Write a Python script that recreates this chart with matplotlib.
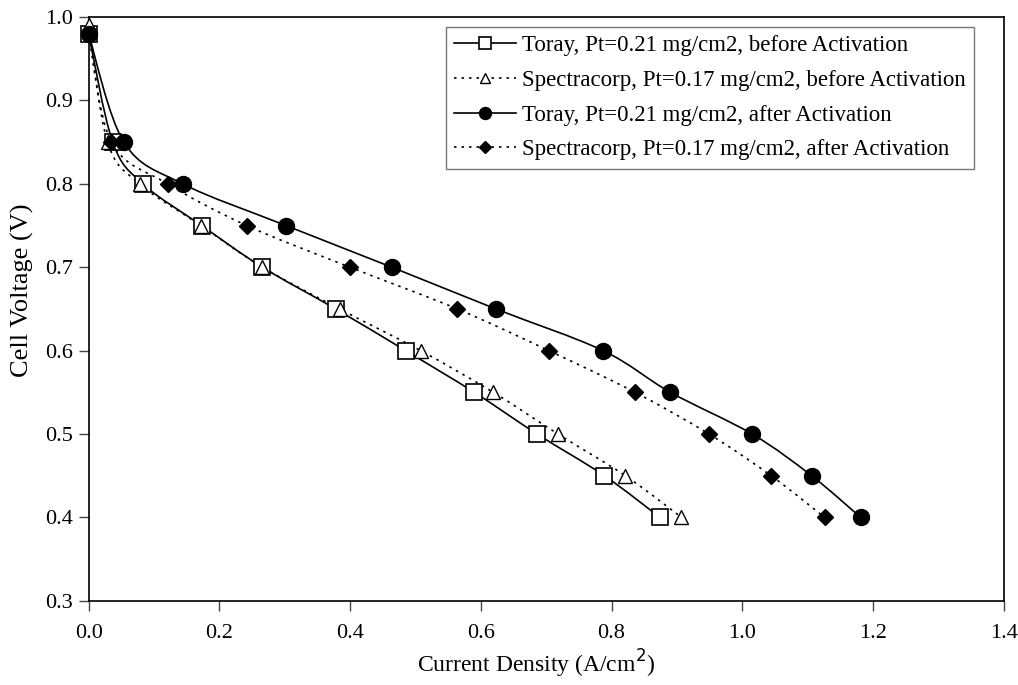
import numpy as np
import matplotlib.pyplot as plt
from matplotlib.path import Path
from matplotlib.patches import PathPatch
from matplotlib.lines import Line2D

plt.rcParams['font.family'] = ['Liberation Serif', 'DejaVu Serif']

voltage = [0.98, 0.85, 0.80, 0.75, 0.70, 0.65, 0.60, 0.55, 0.50, 0.45, 0.40]
toray_before = [0.0, 0.037, 0.083, 0.173, 0.266, 0.378, 0.485, 0.590, 0.686, 0.789, 0.874]
spectra_before_v = [0.99, 0.85, 0.80, 0.75, 0.70, 0.65, 0.60, 0.55, 0.50, 0.45, 0.40]
spectra_before = [0.0, 0.029, 0.078, 0.172, 0.266, 0.384, 0.508, 0.619, 0.718, 0.821, 0.907]
toray_after = [0.0, 0.054, 0.144, 0.302, 0.464, 0.623, 0.787, 0.890, 1.015, 1.106, 1.181]
spectra_after = [0.0, 0.035, 0.121, 0.242, 0.400, 0.564, 0.704, 0.836, 0.949, 1.044, 1.126]

labels = ['Toray, Pt=0.21 mg/cm2, before Activation',
          'Spectracorp, Pt=0.17 mg/cm2, before Activation',
          'Toray, Pt=0.21 mg/cm2, after Activation',
          'Spectracorp, Pt=0.17 mg/cm2, after Activation']

DOT = (0, (1.5, 3))


def smooth_path(x, y):
    # Catmull-Rom style bezier through the points (like Excel smoothed lines)
    p = np.column_stack([x, y])
    n = len(p)
    verts = [p[0]]
    codes = [Path.MOVETO]
    for i in range(n - 1):
        p0 = p[i - 1] if i > 0 else p[i]
        p3 = p[i + 2] if i + 2 < n else p[i + 1]
        c1 = p[i] + (p[i + 1] - p0) / 6
        c2 = p[i + 1] - (p3 - p[i]) / 6
        verts += [c1, c2, p[i + 1]]
        codes += [Path.CURVE4] * 3
    return Path(verts, codes)


fig, ax = plt.subplots(figsize=(10.18, 6.85), dpi=100)
fig.subplots_adjust(left=0.087, right=0.986, top=0.975, bottom=0.123)

series = [
    (toray_before, voltage, '-', dict(marker='s', ms=11, mfc='white', mec='black', mew=1.2)),
    (spectra_before, spectra_before_v, DOT, dict(marker='^', ms=10, mfc='white', mec='black', mew=1.0)),
    (toray_after, voltage, '-', dict(marker='o', ms=11.5, mfc='black', mec='black')),
    (spectra_after, voltage, DOT, dict(marker='D', ms=8, mfc='black', mec='black')),
]

handles = []
for (x, y, ls, mk), lab in zip(series, labels):
    patch = PathPatch(smooth_path(x, y), fill=False, edgecolor='black', lw=1.2, linestyle=ls)
    ax.add_patch(patch)
    ax.plot(x, y, linestyle='none', color='black', clip_on=False, **mk, zorder=3)
    handles.append(Line2D([], [], color='black', lw=1.2, linestyle=ls, **mk))

ax.set_xlim(0, 1.4)
ax.set_ylim(0.3, 1.0)
ax.set_xticks(np.arange(0, 1.41, 0.2))
ax.set_yticks(np.arange(0.3, 1.01, 0.1))
ax.xaxis.set_major_formatter(plt.FormatStrFormatter('%.1f'))
ax.yaxis.set_major_formatter(plt.FormatStrFormatter('%.1f'))
ax.tick_params(direction='out', length=7, width=1, labelsize=16, color='#444444')
ax.tick_params(axis='x', pad=10)
ax.tick_params(axis='y', pad=4)
for s in ax.spines.values():
    s.set_linewidth(1.2)

ax.set_xlabel('Current Density (A/cm$^2$)', fontsize=17)
ax.set_ylabel('Cell Voltage (V)', fontsize=19)
ax.xaxis.set_label_coords(0.489, -0.08)
ax.yaxis.set_label_coords(-0.06, 0.532)

leg = ax.legend(handles, labels, loc='upper right', bbox_to_anchor=(0.967, 0.983),
                borderaxespad=0, fontsize=16.5, frameon=True, fancybox=False,
                handlelength=2.7, handletextpad=0.25, borderpad=0.35,
                labelspacing=0.6, markerscale=0.75)
leg.get_frame().set_edgecolor('#555555')
leg.get_frame().set_linewidth(1.0)

fig.savefig('out.png', dpi=100)
